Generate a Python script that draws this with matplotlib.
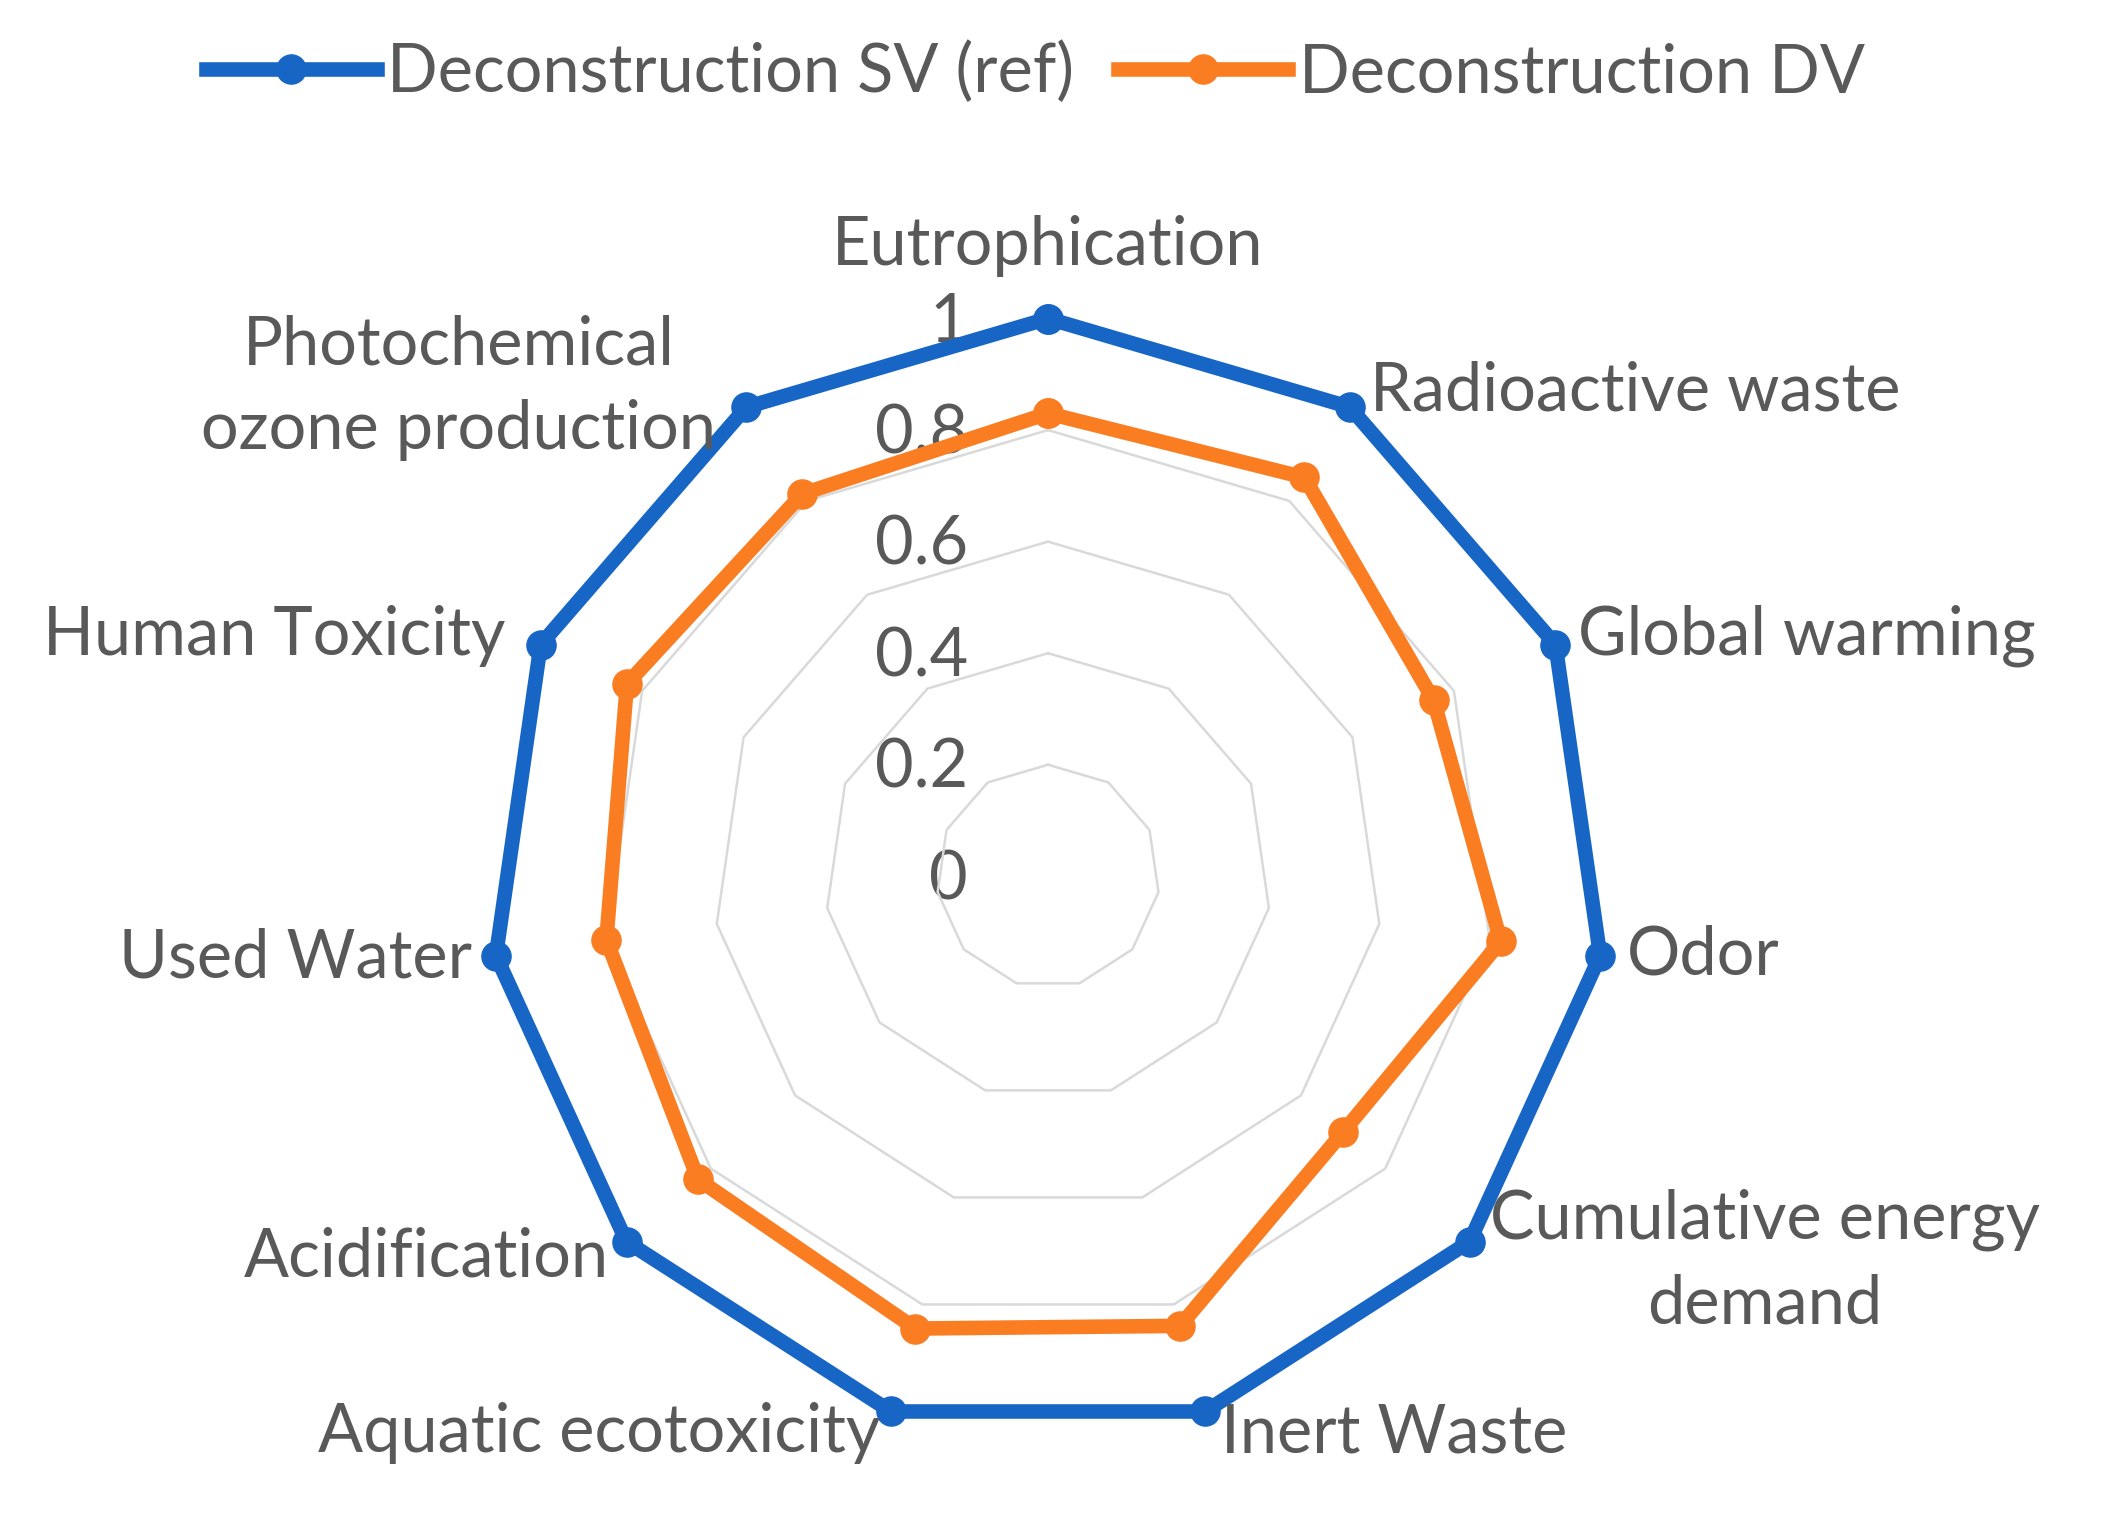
import numpy as np
import matplotlib.pyplot as plt

kategorie = ["Eutrophication", "Radioactive waste", "Global warming", "Odor",
             "Cumulative energy\ndemand", "Inert Waste", "Aquatic ecotoxicity",
             "Acidification", "Used Water", "Human Toxicity",
             "Photochemical\nozone production"]
sv_ref = [1, 1, 1, 1, 1, 1, 1, 1, 1, 1, 1]
dv = [0.83, 0.85, 0.76, 0.82, 0.70, 0.84, 0.845, 0.83, 0.80, 0.83, 0.815]
poziomy = [0, 0.2, 0.4, 0.6, 0.8, 1]
etykiety_poziomow = ["0", "0.2", "0.4", "0.6", "0.8", "1"]

# przesuniecia etykiet kategorii (px) i wyrownanie
przes = [(0, 73), (20, 16), (23, 9), (27, 0), (20, -20), (16, -22),
         (-11, -22), (-18, -16), (-24, -3), (-35, 9), (-30, 19)]
wyr = ["center", "left", "left", "left", "left", "left",
       "right", "right", "right", "right", "right"]

niebieski = "#1766C6"
pomaranczowy = "#FA7D22"
szary_tekst = "#595959"
rozmiar = 48

plt.rcParams['font.family'] = ['Lato', 'DejaVu Sans']

n = len(kategorie)
katy = np.linspace(0, 2 * np.pi, n, endpoint=False)
katy_z = np.append(katy, katy[0])

fig = plt.figure(figsize=(21.13, 15.24), dpi=100)
ax = fig.add_axes([0.232, 0.059, 0.528, 0.732], projection='polar')
ax.set_theta_zero_location('N')
ax.set_theta_direction(-1)
ax.set_ylim(0, 1)
ax.grid(False)
ax.spines['polar'].set_visible(False)
ax.set_xticks([])
ax.set_yticks([])
ax.patch.set_alpha(0)

# pierscienie siatki (wielokaty)
for p in poziomy[1:]:
    ax.plot(katy_z, [p] * (n + 1), color='#D9D9D9', lw=1.8, zorder=1, clip_on=False)

for p, e in zip(poziomy, etykiety_poziomow):
    ax.annotate(e, xy=(0, p), xytext=(-80, -4), textcoords='offset pixels',
                ha='right', va='center', fontsize=rozmiar, color=szary_tekst, zorder=0)

sv_z = np.append(sv_ref, sv_ref[0])
dv_z = np.append(dv, dv[0])
ax.plot(katy_z, sv_z, color=niebieski, lw=10.5, marker='o', markersize=21,
        label='Deconstruction SV (ref)', clip_on=False, zorder=3)
ax.plot(katy_z, dv_z, color=pomaranczowy, lw=10.5, marker='o', markersize=21,
        label='Deconstruction DV', clip_on=False, zorder=3)

for i in range(n):
    ax.annotate(kategorie[i], xy=(katy[i], sv_ref[i]), xytext=przes[i],
                textcoords='offset pixels', ha=wyr[i], va='center',
                multialignment='center', fontsize=rozmiar, color=szary_tekst,
                linespacing=1.45)

fig.legend(loc='upper center', bbox_to_anchor=(0.49, 1.012), ncol=2, frameon=False,
           fontsize=rozmiar, labelcolor=szary_tekst, handlelength=2.56,
           handletextpad=0.16, columnspacing=0.65)

plt.savefig("out.png", dpi=100)
